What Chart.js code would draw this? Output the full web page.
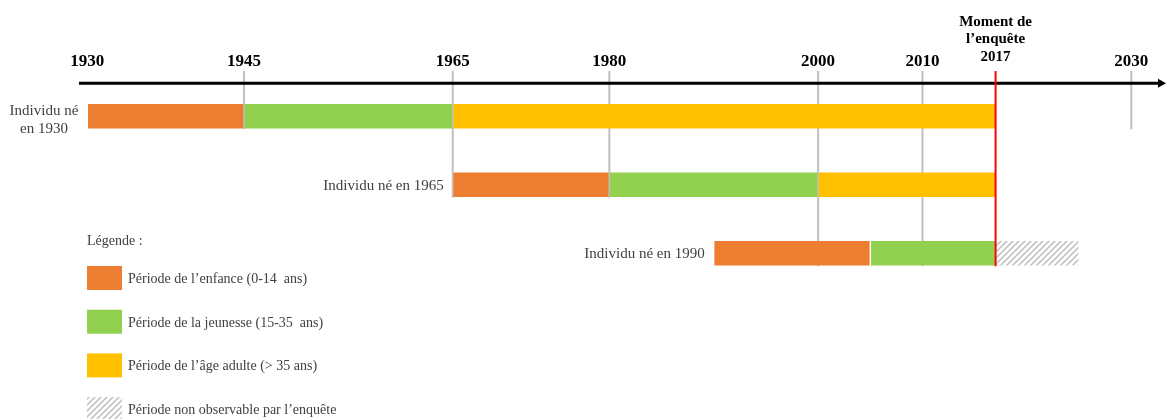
<!DOCTYPE html>
<html lang="fr">
<head>
<meta charset="utf-8">
<title>Périodes de vie et moment de l'enquête</title>
<script src="https://cdn.jsdelivr.net/npm/chart.js@4.4.1/dist/chart.umd.min.js"></script>
<style>
    html, body { margin: 0; padding: 0; background: #fff; }
    #wrap { position: relative; width: 1166px; height: 419px; }
</style>
</head>
<body>
<div id="wrap"><canvas id="chart"></canvas></div>
<script>
// ── Données ──
const individus    = ['Individu né en 1930', 'Individu né en 1965', 'Individu né en 1990'];
const libelles     = [['Individu né', 'en 1930'], ['Individu né en 1965'], ['Individu né en 1990']];
const enfance      = [[1930, 1945], [1965, 1980], [1990, 2005]];
const jeunesse     = [[1945, 1965], [1980, 2000], [2005, 2017]];
const ageAdulte    = [[1965, 2017], [2000, 2017], null];
const nonObserve   = [null, null, [2017, 2025]];
const annees       = [1930, 1945, 1965, 1980, 2000, 2010, 2030];
const reperes      = [-1, 0, 1, 1, 2, 2, 0];   // dernier individu atteint par le trait vertical (-1 : aucun)
const anneeEnquete = 2017;
const titreEnquete = ['Moment de', 'l\u2019enquête', '2017'];
const legende      = [
    'Période de l\u2019enfance (0-14  ans)',
    'Période de la jeunesse (15-35  ans)',
    'Période de l\u2019âge adulte (> 35 ans)',
    'Période non observable par l\u2019enquête'
];

const SERIF = "'Liberation Serif', 'Times New Roman', serif";
const canvas = document.getElementById('chart');

// ── Motif hachuré ──
function hachures() {
    const t = document.createElement('canvas');
    t.width = t.height = 6;
    const c = t.getContext('2d');
    c.strokeStyle = '#c4c4c4';
    c.lineWidth = 1.6;
    c.beginPath();
    c.moveTo(0, 6);  c.lineTo(6, 0);
    c.moveTo(-3, 3); c.lineTo(3, -3);
    c.moveTo(3, 9);  c.lineTo(9, 3);
    c.stroke();
    return canvas.getContext('2d').createPattern(t, 'repeat');
}

const couleurs = ['#ED7D31', '#92D050', '#FFC000', hachures()];
const series   = [enfance, jeunesse, ageAdulte, nonObserve];

// ── Décor : repères, axe, libellés, légende ──
const decor = {
    id: 'decor',
    beforeDatasetsDraw(chart) {
        const { ctx, chartArea } = chart;
        const x = chart.scales.x, y = chart.scales.y;
        ctx.save();
        ctx.strokeStyle = '#c0c0c0';
        ctx.lineWidth = 2;
        annees.forEach((a, i) => {
            if (reperes[i] < 0) return;
            const px = x.getPixelForValue(a);
            ctx.beginPath();
            ctx.moveTo(px, chartArea.top - 11);
            ctx.lineTo(px, y.getPixelForValue(reperes[i]) + 13);
            ctx.stroke();
        });
        ctx.restore();
    },
    afterDatasetsDraw(chart) {
        const { ctx, chartArea, width } = chart;
        const x = chart.scales.x, y = chart.scales.y;
        ctx.save();

        // axe du temps avec flèche
        const ay = chartArea.top + 1.3;
        ctx.strokeStyle = '#000';
        ctx.lineWidth = 3;
        ctx.beginPath();
        ctx.moveTo(chartArea.left, ay);
        ctx.lineTo(width - 6, ay);
        ctx.stroke();
        ctx.fillStyle = '#000';
        ctx.beginPath();
        ctx.moveTo(width - 8, ay - 4.5);
        ctx.lineTo(width, ay);
        ctx.lineTo(width - 8, ay + 4.5);
        ctx.closePath();
        ctx.fill();

        // moment de l'enquête
        const ex = x.getPixelForValue(anneeEnquete);
        ctx.strokeStyle = '#ff0000';
        ctx.lineWidth = 2;
        ctx.beginPath();
        ctx.moveTo(ex, chartArea.top - 11);
        ctx.lineTo(ex, y.getPixelForValue(individus.length - 1) + 13);
        ctx.stroke();

        // années
        ctx.fillStyle = '#000';
        ctx.textAlign = 'center';
        ctx.textBaseline = 'alphabetic';
        ctx.font = 'bold 17px ' + SERIF;
        annees.forEach(a => ctx.fillText(String(a), x.getPixelForValue(a), chartArea.top - 16));
        ctx.font = 'bold 15px ' + SERIF;
        titreEnquete.forEach((l, i) => ctx.fillText(l, ex, chartArea.top - 56.5 + i * 17.5));

        // libellés des individus
        ctx.font = '15px ' + SERIF;
        ctx.fillStyle = '#404040';
        libelles.forEach((lignes, i) => {
            const debut = x.getPixelForValue(enfance[i][0]) - 9;
            const largeur = Math.max(...lignes.map(l => ctx.measureText(l).width));
            const cy = y.getPixelForValue(i);
            const base = lignes.length > 1 ? cy - 1 : cy + 5;
            lignes.forEach((l, k) => ctx.fillText(l, debut - largeur / 2, base + k * 18));
        });

        // légende
        ctx.textAlign = 'left';
        ctx.font = '14px ' + SERIF;
        ctx.fillText('Légende :', 87, 245);
        chart.data.datasets.forEach((ds, i) => {
            const top = 266 + i * 43.7;
            ctx.fillStyle = ds.backgroundColor;
            ctx.fillRect(87, top, 35, 24);
            ctx.fillStyle = '#404040';
            ctx.fillText(ds.label, 128, top + 17);
        });
        ctx.restore();
    }
};

new Chart(canvas, {
    type: 'bar',
    data: {
        labels: individus,
        datasets: series.map((d, i) => ({
            label: legende[i],
            data: d,
            backgroundColor: couleurs[i],
            borderColor: 'rgba(255,255,255,0)',
            borderWidth: 1,
            borderSkipped: false,
            barThickness: 26,
            grouped: false
        }))
    },
    options: {
        indexAxis: 'y',
        responsive: true,
        maintainAspectRatio: false,
        animation: false,
        devicePixelRatio: 1,
        layout: { padding: { left: 79, right: 6, top: 82, bottom: 131.5 } },
        plugins: { legend: { display: false }, tooltip: { enabled: false } },
        scales: {
            x: { type: 'linear', min: 1929.2, max: 2032.75, display: false },
            y: { display: false }
        }
    },
    plugins: [decor]
});
</script>
</body>
</html>
